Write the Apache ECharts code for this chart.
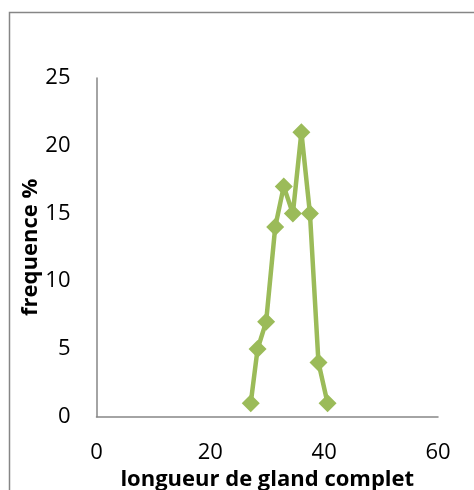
<!DOCTYPE html>
<html><head><meta charset="utf-8">
<script src="https://cdn.jsdelivr.net/npm/echarts@6/dist/echarts.min.js"></script>
<style>html,body{margin:0;padding:0;background:#fff}#c{width:474px;height:490px}</style>
</head><body><div id="c"></div>
<script>
var xValues = [27.1, 28.3, 29.8, 31.4, 32.9, 34.5, 36.0, 37.5, 39.0, 40.6];
var yValues = [1, 5, 7, 14, 17, 15, 21, 15, 4, 1];
var xTitle = 'longueur de gland complet';
var yTitle = 'frequence %';
var data = xValues.map(function (x, i) { return [x, yValues[i]]; });
var font = 'Open Sans';
var chart = echarts.init(document.getElementById('c'));
chart.setOption({
  animation: false,
  graphic: [{type: 'rect', shape: {x: 9.5, y: 12.5, width: 600, height: 600}, style: {fill: 'none', stroke: '#868686', lineWidth: 1.5}, silent: true}],
  grid: {left: 96.5, top: 78, right: 36, bottom: 73.3, outerBoundsMode: 'none', containLabel: false},
  xAxis: {type: 'value', min: 0, max: 60, interval: 20,
    axisLine: {lineStyle: {color: '#868686', width: 1.5}}, axisTick: {show: false}, splitLine: {show: false},
    axisLabel: {color: '#000', fontSize: 22, fontFamily: font, margin: 25},
    name: xTitle, nameLocation: 'middle', nameGap: 52, nameMoveOverlap: false,
    nameTextStyle: {color: '#000', fontSize: 22, fontWeight: 'bold', fontFamily: font}},
  yAxis: {type: 'value', min: 0, max: 25, interval: 5,
    axisLine: {show: true, lineStyle: {color: '#868686', width: 1.5}}, axisTick: {show: false}, splitLine: {show: false},
    axisLabel: {color: '#000', fontSize: 22, fontFamily: font, margin: 26},
    name: yTitle, nameLocation: 'middle', nameGap: 55, nameRotate: 90, nameMoveOverlap: false,
    nameTextStyle: {color: '#000', fontSize: 22, fontWeight: 'bold', fontFamily: font}},
  series: [{type: 'line', data: data, symbol: 'diamond', symbolSize: 18,
    lineStyle: {color: '#9BBB59', width: 4.5}, itemStyle: {color: '#9BBB59'}}]
});
</script></body></html>
